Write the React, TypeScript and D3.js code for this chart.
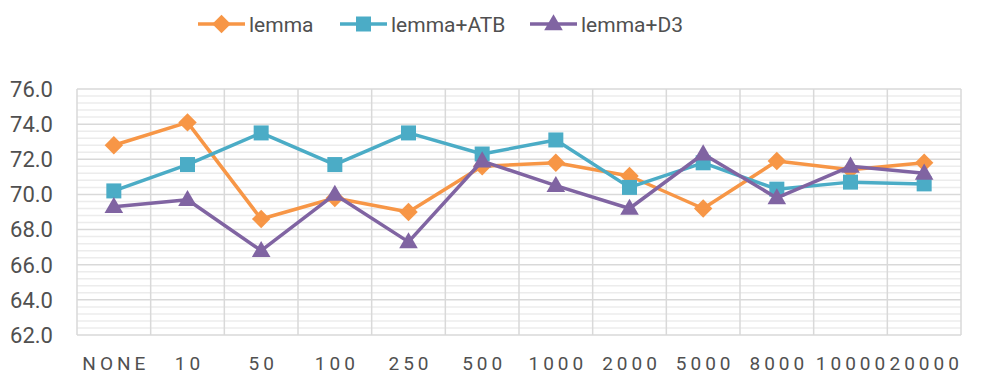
import React from 'react';
import * as d3 from 'd3';

const categories = ['NONE', '10', '50', '100', '250', '500', '1000', '2000', '5000', '8000', '10000', '20000'];
const lemma = [72.8, 74.1, 68.6, 69.8, 69.0, 71.6, 71.8, 71.05, 69.2, 71.9, 71.4, 71.8];
const lemmaATB = [70.2, 71.7, 73.5, 71.7, 73.5, 72.3, 73.1, 70.4, 71.8, 70.3, 70.7, 70.6];
const lemmaD3 = [69.3, 69.7, 66.8, 70.0, 67.3, 71.9, 70.5, 69.2, 72.3, 69.8, 71.6, 71.2];
const yTicks = [62, 64, 66, 68, 70, 72, 74, 76];

const series = [
  { name: 'lemma', values: lemma, color: '#F79646', shape: 'diamond', legendX: 198 },
  { name: 'lemma+ATB', values: lemmaATB, color: '#4BACC6', shape: 'square', legendX: 340 },
  { name: 'lemma+D3', values: lemmaD3, color: '#8064A2', shape: 'triangle', legendX: 530 },
];

const W = 982;
const H = 388;
const margin = { top: 89, right: 21, bottom: 53, left: 77 };

const markerPath = (shape: string) => {
  if (shape === 'diamond') return d3.symbol(d3.symbolSquare, 170)();
  if (shape === 'square') return d3.symbol(d3.symbolSquare, 225)();
  return d3.symbol(d3.symbolTriangle, 150)();
};

const Marker = ({ shape, color, x, y }: { shape: string; color: string; x: number; y: number }) => {
  const rot = shape === 'diamond' ? ' rotate(45)' : '';
  const dy = shape === 'triangle' ? 1 : 0;
  return <path d={markerPath(shape) || ''} fill={color} transform={`translate(${x},${y + dy})${rot}`} />;
};

const App = () => {
  const x = d3.scaleBand().domain(categories).range([margin.left, W - margin.right]).padding(0);
  const y = d3.scaleLinear().domain([62, 76]).range([H - margin.bottom, margin.top]);
  // minor grid every 0.4, skipping the major lines
  const minorTicks = d3.range(62, 76.001, 0.4).filter((v) => Math.abs(v / 2 - Math.round(v / 2)) > 0.01);
  const line = d3.line<number>()
    .x((_, i) => (x(categories[i]) as number) + x.bandwidth() / 2)
    .y((d) => y(d));
  const font = 'Roboto, sans-serif';
  const textColor = '#505050';
  const ls = 4;

  return (
    <svg width={W} height={H} style={{ display: 'block', position: 'absolute', left: 0, top: 0 }}>
      <rect width={W} height={H} fill="#fff" />
      {minorTicks.map((v) => (
        <line key={'m' + v} x1={margin.left} x2={W - margin.right} y1={y(v)} y2={y(v)} stroke="#ececec" strokeWidth={1.5} />
      ))}
      {categories.map((c) => (
        <line key={'v' + c} x1={x(c)} x2={x(c)} y1={margin.top} y2={H - margin.bottom} stroke="#d9d9d9" strokeWidth={1.5} />
      ))}
      <line x1={W - margin.right} x2={W - margin.right} y1={margin.top} y2={H - margin.bottom} stroke="#d9d9d9" strokeWidth={1.5} />
      {yTicks.map((v) => (
        <g key={'y' + v}>
          <line x1={margin.left} x2={W - margin.right} y1={y(v)} y2={y(v)} stroke="#d9d9d9" strokeWidth={1.5} />
          <text x={53} y={y(v)} dy="0.36em" textAnchor="end" fontFamily={font} fontSize={22} fill={textColor}>
            {d3.format('.1f')(v)}
          </text>
        </g>
      ))}
      {categories.map((c) => (
        <text key={'x' + c} x={(x(c) as number) + x.bandwidth() / 2 + ls / 2} y={370} textAnchor="middle" fontFamily={font}
          fontSize={19} letterSpacing={ls} fill={textColor}>
          {c}
        </text>
      ))}
      {series.map((s) => (
        <g key={s.name}>
          <path d={line(s.values) || ''} fill="none" stroke={s.color} strokeWidth={3.5} strokeLinejoin="round" />
          {s.values.map((v, i) => (
            <Marker key={i} shape={s.shape} color={s.color} x={(x(categories[i]) as number) + x.bandwidth() / 2} y={y(v)} />
          ))}
        </g>
      ))}
      {series.map((s) => (
        <g key={'l' + s.name}>
          <line x1={s.legendX} x2={s.legendX + 47} y1={24} y2={24} stroke={s.color} strokeWidth={3.5} />
          <Marker shape={s.shape} color={s.color} x={s.legendX + 23.5} y={24} />
          <text x={s.legendX + 51} y={24} dy="0.36em" fontFamily={font} fontSize={21} fill={textColor}>
            {s.name}
          </text>
        </g>
      ))}
    </svg>
  );
};

export default App;
